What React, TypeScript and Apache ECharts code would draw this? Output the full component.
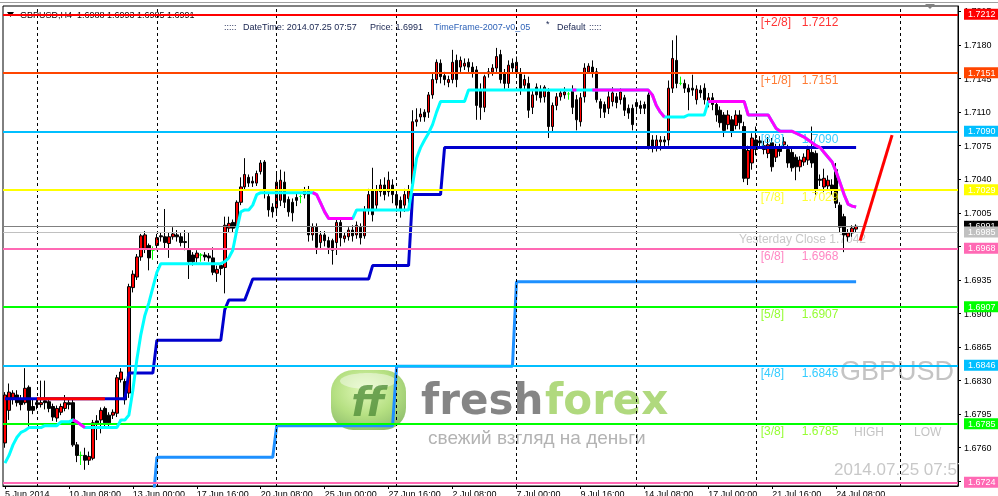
import React, { useEffect, useRef } from "react";
import * as echarts from "echarts";

const FONT = '"Liberation Sans", Arial, sans-serif';
const SLOT_COUNT = 239;
const LABEL_EVERY = 16;
const tickLabels = ["5 Jun 2014", "10 Jun 08:00", "13 Jun 00:00", "17 Jun 16:00", "20 Jun 08:00", "25 Jun 00:00", "27 Jun 16:00", "2 Jul 08:00", "7 Jul 00:00", "9 Jul 16:00", "14 Jul 08:00", "17 Jul 00:00", "21 Jul 16:00", "24 Jul 08:00"];
const yTicks = [1.7215, 1.718, 1.7145, 1.711, 1.7075, 1.704, 1.7005, 1.697, 1.6935, 1.69, 1.6865, 1.683, 1.6795, 1.676, 1.6725];

const opens = [
  1.6765, 1.6799, 1.6812, 1.6815, 1.681, 1.6807, 1.6823, 1.6803, 1.6807, 1.6805,
  1.6809, 1.6808, 1.6803, 1.6791, 1.6797, 1.6801, 1.6807, 1.6807, 1.6763, 1.6752,
  1.6752, 1.6747, 1.6749, 1.6788, 1.6789, 1.6801, 1.6794, 1.6794, 1.6796, 1.6831,
  1.6829, 1.6817, 1.6927, 1.6938, 1.6959, 1.6968, 1.6971, 1.6966, 1.6971, 1.6981,
  1.698, 1.6973, 1.698, 1.6982, 1.698, 1.6975, 1.6966, 1.6961, 1.6958, 1.6961,
  1.6961, 1.696, 1.6958, 1.6942, 1.695, 1.6948, 1.6989, 1.6995, 1.699, 1.7016,
  1.7032, 1.7042, 1.7038, 1.7036, 1.7048, 1.7058, 1.7022, 1.7011, 1.701, 1.7018,
  1.7037, 1.7019, 1.7016, 1.7021, 1.7022, 1.7024, 1.7029, 1.6982, 1.699, 1.6974,
  1.6982, 1.6976, 1.6976, 1.6974, 1.6995, 1.6978, 1.698, 1.6987, 1.6982, 1.699,
  1.6981, 1.7008, 1.7029, 1.7013, 1.7027, 1.7034, 1.7027, 1.7034, 1.7024, 1.7018,
  1.7013, 1.702, 1.7035, 1.71, 1.7105, 1.711, 1.711, 1.7128, 1.7144, 1.7161,
  1.7148, 1.7141, 1.7144, 1.7164, 1.7157, 1.7158, 1.7162, 1.7157, 1.7154, 1.7133,
  1.7115, 1.715, 1.7152, 1.7156, 1.717, 1.7151, 1.714, 1.7161, 1.7151, 1.7151,
  1.7138, 1.714, 1.7115, 1.7136, 1.7133, 1.7126, 1.7131, 1.7095, 1.7117, 1.7126,
  1.7128, 1.7129, 1.7133, 1.7123, 1.71, 1.7126, 1.7152, 1.7157, 1.7152, 1.7121,
  1.7118, 1.7114, 1.7121, 1.7126, 1.7123, 1.7125, 1.7114, 1.7114, 1.712, 1.7117,
  1.7118, 1.7128, 1.7081, 1.7074, 1.7079, 1.7081, 1.7081, 1.7135, 1.7164, 1.714,
  1.714, 1.7135, 1.7135, 1.7123, 1.7133, 1.7135, 1.712, 1.7125, 1.7118, 1.7112,
  1.7107, 1.7097, 1.7102, 1.7096, 1.7107, 1.7095, 1.7041, 1.7057, 1.7081, 1.708,
  1.7071, 1.7067, 1.7078, 1.7063, 1.7073, 1.7076, 1.7071, 1.7068, 1.7063, 1.7053,
  1.7058, 1.706, 1.7068, 1.7067, 1.704, 1.7032, 1.7033, 1.7034, 1.705, 1.7013,
  1.7001, 1.698, 1.6984, 1.6988
];
const closes = [
  1.6815, 1.6818, 1.6817, 1.6807, 1.6805, 1.6822, 1.6799, 1.6799, 1.6805, 1.6807,
  1.6807, 1.6801, 1.6792, 1.6801, 1.6803, 1.6807, 1.6805, 1.6763, 1.6752, 1.6752,
  1.6747, 1.6751, 1.6786, 1.6786, 1.6799, 1.6786, 1.6786, 1.6797, 1.6833, 1.6839,
  1.681, 1.6928, 1.6941, 1.6959, 1.6981, 1.6982, 1.6958, 1.6966, 1.6979, 1.698,
  1.6974, 1.698, 1.6983, 1.698, 1.6974, 1.6974, 1.6954, 1.6954, 1.6963, 1.6961,
  1.6959, 1.6958, 1.6943, 1.6946, 1.6947, 1.6992, 1.6994, 1.6989, 1.7016, 1.7032,
  1.7045, 1.7036, 1.7036, 1.7046, 1.7057, 1.7029, 1.7008, 1.7006, 1.7037, 1.7039,
  1.7016, 1.7006, 1.7005, 1.7018, 1.7022, 1.7028, 1.6982, 1.699, 1.6969, 1.6982,
  1.6976, 1.6969, 1.6966, 1.6995, 1.6979, 1.6981, 1.6987, 1.6981, 1.6992, 1.6979,
  1.7008, 1.7024, 1.7003, 1.7029, 1.7034, 1.7024, 1.7039, 1.7024, 1.7013, 1.7008,
  1.7024, 1.7029, 1.71, 1.7102, 1.7108, 1.7105, 1.7128, 1.7144, 1.7162, 1.7147,
  1.7144, 1.7144, 1.7162, 1.7144, 1.7164, 1.7161, 1.7157, 1.7151, 1.7117, 1.7115,
  1.7147, 1.7152, 1.7156, 1.7168, 1.7144, 1.714, 1.7159, 1.7156, 1.7162, 1.7135,
  1.7144, 1.7112, 1.7128, 1.7128, 1.7125, 1.7136, 1.7095, 1.7117, 1.7126, 1.713,
  1.7131, 1.7129, 1.7115, 1.7102, 1.7125, 1.7156, 1.7158, 1.7151, 1.7123, 1.7114,
  1.711, 1.7126, 1.713, 1.712, 1.7131, 1.7112, 1.7109, 1.7097, 1.7116, 1.7114,
  1.7114, 1.7074, 1.7073, 1.7081, 1.7081, 1.7079, 1.7135, 1.7166, 1.714, 1.714,
  1.7135, 1.7131, 1.7133, 1.7134, 1.713, 1.7123, 1.7125, 1.7118, 1.7107, 1.7099,
  1.7091, 1.7107, 1.7089, 1.7107, 1.7099, 1.7041, 1.707, 1.7083, 1.7071, 1.7078,
  1.7075, 1.7076, 1.7053, 1.7073, 1.7069, 1.7079, 1.7057, 1.7052, 1.7053, 1.706,
  1.7063, 1.7071, 1.7057, 1.7029, 1.7039, 1.7041, 1.7039, 1.7029, 1.7015, 1.699,
  1.6982, 1.6984, 1.6989, 1.6991
];
const lows = [
  1.676, 1.6789, 1.6805, 1.6803, 1.6799, 1.6805, 1.6782, 1.6795, 1.68, 1.6802,
  1.68, 1.6797, 1.6788, 1.6787, 1.6794, 1.6798, 1.68, 1.6761, 1.6745, 1.6742,
  1.6737, 1.6742, 1.6747, 1.6768, 1.6775, 1.678, 1.678, 1.679, 1.6792, 1.6828,
  1.6805, 1.6812, 1.6922, 1.6935, 1.6955, 1.6963, 1.6945, 1.6956, 1.6966, 1.6975,
  1.6968, 1.6958, 1.6977, 1.6975, 1.697, 1.6966, 1.6936, 1.695, 1.6953, 1.6954,
  1.6955, 1.6954, 1.694, 1.6933, 1.694, 1.6921, 1.6985, 1.6985, 1.6987, 1.7013,
  1.7028, 1.7032, 1.7032, 1.7033, 1.7045, 1.702, 1.7001, 1.7, 1.7003, 1.7012,
  1.701, 1.7001, 1.6996, 1.7012, 1.7015, 1.702, 1.6975, 1.6976, 1.6962, 1.6968,
  1.697, 1.6962, 1.6951, 1.6961, 1.697, 1.6974, 1.6976, 1.6975, 1.6978, 1.6972,
  1.6978, 1.7003, 1.6996, 1.7008, 1.7022, 1.7018, 1.7022, 1.7015, 1.7006, 1.7,
  1.7006, 1.7015, 1.703, 1.7095, 1.71, 1.71, 1.7104, 1.7124, 1.714, 1.714,
  1.7138, 1.7136, 1.714, 1.7136, 1.7152, 1.7154, 1.7152, 1.7146, 1.7102, 1.7102,
  1.711, 1.7146, 1.7148, 1.7152, 1.714, 1.7133, 1.7135, 1.715, 1.7146, 1.7128,
  1.7133, 1.7104, 1.7108, 1.7122, 1.712, 1.712, 1.7083, 1.709, 1.7112, 1.7122,
  1.7124, 1.7123, 1.7108, 1.7091, 1.7095, 1.712, 1.715, 1.7146, 1.712, 1.7104,
  1.7104, 1.7108, 1.7116, 1.7114, 1.7118, 1.7106, 1.7103, 1.7091, 1.711, 1.7108,
  1.7108, 1.7071, 1.7068, 1.7069, 1.707, 1.7074, 1.7075, 1.713, 1.7135, 1.7138,
  1.713, 1.7112, 1.7127, 1.7118, 1.7125, 1.7118, 1.7115, 1.7112, 1.71, 1.7094,
  1.7084, 1.7092, 1.7084, 1.7092, 1.7092, 1.7037, 1.7034, 1.705, 1.7065, 1.7072,
  1.7066, 1.7062, 1.7048, 1.7058, 1.7064, 1.7072, 1.7052, 1.7048, 1.7039, 1.7048,
  1.7054, 1.7055, 1.7052, 1.7024, 1.7033, 1.7027, 1.7028, 1.7024, 1.701, 1.6985,
  1.6964, 1.6975, 1.698, 1.6985
];
const highs = [
  1.6818, 1.6827, 1.682, 1.682, 1.6815, 1.6843, 1.6825, 1.681, 1.6812, 1.683,
  1.683, 1.6812, 1.6806, 1.6804, 1.6806, 1.6815, 1.6812, 1.681, 1.6766, 1.6756,
  1.676, 1.6756, 1.6789, 1.6794, 1.6802, 1.6803, 1.6797, 1.68, 1.6836, 1.6843,
  1.6832, 1.6931, 1.6945, 1.6962, 1.6983, 1.6986, 1.6973, 1.697, 1.6983, 1.6985,
  1.7009, 1.6984, 1.699, 1.6987, 1.6984, 1.6987, 1.6984, 1.6964, 1.6966, 1.6963,
  1.6964, 1.6963, 1.6969, 1.695, 1.6953, 1.7001, 1.7001, 1.6998, 1.7018, 1.7042,
  1.7062, 1.7045, 1.7043, 1.7049, 1.706, 1.706, 1.7026, 1.7015, 1.7047, 1.705,
  1.7048, 1.7022, 1.702, 1.7025, 1.7024, 1.7032, 1.7033, 1.6994, 1.6994, 1.6986,
  1.6986, 1.698, 1.6978, 1.6998, 1.6998, 1.6984, 1.699, 1.6992, 1.6996, 1.6994,
  1.7012, 1.703, 1.7052, 1.7034, 1.704, 1.7042, 1.7048, 1.704, 1.7028, 1.7022,
  1.703, 1.7034, 1.7112, 1.7114, 1.7114, 1.7113, 1.7131, 1.7151, 1.7165, 1.7165,
  1.7152, 1.7148, 1.7175, 1.717, 1.7168, 1.7166, 1.7166, 1.7162, 1.7158, 1.714,
  1.7149, 1.7156, 1.716, 1.7177, 1.7175, 1.7155, 1.7164, 1.7166, 1.7168, 1.7156,
  1.7149, 1.7147, 1.7133, 1.714, 1.7138, 1.7138, 1.7135, 1.712, 1.713, 1.7134,
  1.7136, 1.7131, 1.7138, 1.7128, 1.713, 1.7161, 1.7161, 1.7164, 1.7156, 1.7124,
  1.7121, 1.7133, 1.7136, 1.713, 1.7135, 1.7128, 1.7118, 1.7118, 1.7124, 1.7122,
  1.7121, 1.7131, 1.7086, 1.7086, 1.7085, 1.7085, 1.7143, 1.7185, 1.719, 1.7147,
  1.7144, 1.7139, 1.7149, 1.7138, 1.7138, 1.714, 1.713, 1.713, 1.7122, 1.7116,
  1.711, 1.7112, 1.7106, 1.7112, 1.7112, 1.71, 1.7075, 1.7088, 1.7095, 1.7085,
  1.708, 1.7084, 1.7083, 1.7077, 1.7077, 1.7084, 1.7076, 1.7072, 1.7066, 1.7064,
  1.7067, 1.7075, 1.7095, 1.707, 1.7045, 1.7051, 1.7044, 1.704, 1.7057, 1.7016,
  1.7004, 1.6988, 1.6992, 1.6993
];
const dojiBars = [19, 37, 49, 74, 141, 169];

const trendValues = [
  1.6744, 1.6752, 1.6763, 1.6771, 1.6776, 1.6778, 1.6781, 1.6781, 1.6781, 1.6781,
  1.6783, 1.6783, 1.6783, 1.6783, 1.6787, 1.6787, 1.6787, 1.6789, 1.6787, 1.6784,
  1.6781, 1.6781, 1.6781, 1.6781, 1.6781, 1.6781, 1.6781, 1.6781, 1.6781, 1.6789,
  1.6789, 1.6794, 1.682, 1.6852, 1.6878, 1.6898, 1.6911, 1.6927, 1.6943, 1.6952,
  1.6952, 1.6952, 1.6952, 1.6952, 1.6952, 1.6952, 1.6952, 1.6952, 1.6952, 1.6952,
  1.6952, 1.6952, 1.6952, 1.6952, 1.6952, 1.6954, 1.6958, 1.6966, 1.6987, 1.7006,
  1.7008, 1.7008, 1.7013, 1.7024, 1.7026, 1.7026, 1.7026, 1.7026, 1.7026, 1.7026,
  1.7026, 1.7026, 1.7026, 1.7026, 1.7026, 1.7026, 1.7026, 1.7026, 1.7024, 1.7015,
  1.7006, 1.6999, 1.6999, 1.6999, 1.6999, 1.6999, 1.6999, 1.6999, 1.7008, 1.7008,
  1.7008, 1.7008, 1.7008, 1.7008, 1.7008, 1.7008, 1.7008, 1.7008, 1.7008, 1.7008,
  1.7008, 1.7008, 1.7034, 1.7062, 1.7073, 1.7081, 1.7088, 1.7097, 1.711, 1.7121,
  1.7121, 1.7121, 1.7121, 1.7121, 1.7121, 1.7121, 1.7133, 1.7133, 1.7133, 1.7133,
  1.7133, 1.7133, 1.7133, 1.7133, 1.7133, 1.7133, 1.7133, 1.7133, 1.7133, 1.7133,
  1.7133, 1.7133, 1.7133, 1.7133, 1.7133, 1.7133, 1.7133, 1.7133, 1.7133, 1.7133,
  1.7133, 1.7133, 1.7133, 1.7133, 1.7133, 1.7133, 1.7133, 1.7133, 1.7133, 1.7133,
  1.7133, 1.7133, 1.7133, 1.7133, 1.7133, 1.7133, 1.7133, 1.7133, 1.7133, 1.7133,
  1.7133, 1.7133, 1.7128, 1.7117, 1.711, 1.7105, 1.7105, 1.7105, 1.7105, 1.7105,
  1.7105, 1.7107, 1.7107, 1.7107, 1.7107, 1.7107, 1.7121, 1.7121, 1.7121, 1.7121,
  1.7121, 1.7121, 1.7121, 1.7121, 1.7121, 1.7121, 1.7107, 1.7107, 1.7107, 1.7107,
  1.7107, 1.7107, 1.71, 1.7093, 1.709, 1.709, 1.709, 1.709, 1.7088, 1.7086,
  1.7084, 1.7081, 1.7078, 1.7075, 1.7073, 1.7068, 1.7063, 1.7058, 1.7048, 1.7036,
  1.7024, 1.7014, 1.7012, 1.7011
];
const trendDownRanges = [[17, 20], [77, 87], [142, 143], [147, 165], [176, 213]];

// stepped support lines: [fromBar, toBar, price]
const blueSteps = [[0, 30, 1.6811], [31, 37, 1.6838], [38, 54, 1.6872], [55, 55, 1.6904], [56, 60, 1.6914], [61, 61, 1.6925], [62, 91, 1.6936], [92, 101, 1.695], [102, 109, 1.7024], [110, 213, 1.7073]];
const redSteps = [[8, 25, 1.6811]];
const dodgerSteps = [[37, 37, 1.67], [38, 67, 1.675], [68, 97, 1.6783], [98, 127, 1.6845], [128, 213, 1.6933]];
const projection = [[214, 1.6976], [222, 1.7086]];
const weekLines = [8, 38, 68, 98, 128, 158, 188, 224];

const levels = [
  { name: "[+2/8]", value: 1.7212, color: "#FF0000", text: "#FF0000" },
  { name: "[+1/8]", value: 1.7151, color: "#FF4500", text: "#FF5A00" },
  { name: "[8/8]", value: 1.709, color: "#00BFFF", text: "#00BFFF" },
  { name: "[7/8]", value: 1.7029, color: "#FFFF00", text: "#FFFF00" },
  { name: "[6/8]", value: 1.6968, color: "#FF69B4", text: "#FF69B4" },
  { name: "[5/8]", value: 1.6907, color: "#00FF00", text: "#7CFC00" },
  { name: "[4/8]", value: 1.6846, color: "#00BFFF", text: "#00BFFF" },
  { name: "[3/8]", value: 1.6785, color: "#00FF00", text: "#7CFC00" },
  { name: "", value: 1.6724, color: "#FF69B4", text: "#FF69B4" },
];
const priceLines = [
  { value: 1.6991, color: "#808080", tag: "#000000" },
  { value: 1.6985, color: "#C0C0C0", tag: "#C0C0C0" },
];
const LEVEL_TEXT_BAR = 189;

const BAR_COUNT = opens.length;

function fromSteps(steps: number[][]) {
  const arr: (number | null)[] = new Array(BAR_COUNT).fill(null);
  steps.forEach(([a, b, v]) => {
    for (let i = a; i <= b; i++) arr[i] = v;
  });
  return arr;
}

function tag(color: string, value: number) {
  return {
    show: true,
    position: "end",
    distance: 6,
    formatter: () => value.toFixed(4),
    color: "#ffffff",
    backgroundColor: color,
    padding: [1, 4, 0, 4],
    fontSize: 9,
    lineHeight: 10,
    fontFamily: FONT,
  };
}

export default function App() {
  const ref = useRef<HTMLDivElement>(null);
  useEffect(() => {
    if (!ref.current) return;
    const chart = echarts.init(ref.current, undefined, { renderer: "svg" });

    const categories = Array.from({ length: SLOT_COUNT }, (_, i) =>
      i % LABEL_EVERY === 0 && tickLabels[i / LABEL_EVERY] ? tickLabels[i / LABEL_EVERY] : ""
    );

    const candleData = opens.map((o, i) => {
      const v = [o, closes[i], lows[i], highs[i]];
      if (dojiBars.includes(i)) {
        return {
          value: v,
          itemStyle: { color: "#00FF00", color0: "#00FF00", borderColor: "#00FF00", borderColor0: "#00FF00" },
        };
      }
      return v;
    });

    const magenta: (number | null)[] = new Array(BAR_COUNT).fill(null);
    trendDownRanges.forEach(([a, b]) => {
      for (let i = a; i <= b; i++) magenta[i] = trendValues[i];
    });

    const levelTexts: any[] = [];
    levels.forEach((l) => {
      if (!l.name) return;
      levelTexts.push({ value: [LEVEL_TEXT_BAR, l.value], label: { formatter: l.name, color: l.text, position: [1, 2] } });
      levelTexts.push({ value: [LEVEL_TEXT_BAR, l.value], label: { formatter: l.value.toFixed(4), color: l.text, position: [42, 2] } });
    });

    const stepLine = (data: any, color: string, z: number) => ({
      type: "line",
      data,
      z,
      symbol: "none",
      silent: true,
      connectNulls: false,
      lineStyle: { color, width: 3 },
      emphasis: { disabled: true },
    });

    const txt = (x: number, y: number, text: string, fill: string, font: string, extra: any = {}) => ({
      type: "text",
      x,
      y,
      z: 1,
      silent: true,
      style: { text, fill, font, textVerticalAlign: "middle", verticalAlign: "middle", ...extra },
    });

    const smallFont = `9px ${FONT}`;

    chart.setOption({
      animation: false,
      grid: {
        left: 3,
        right: 40,
        top: 6,
        bottom: 10,
        show: true,
        borderColor: "#000",
        borderWidth: 1,
        backgroundColor: "transparent",
        containLabel: false,
        outerBoundsMode: "none",
      },
      xAxis: {
        type: "category",
        data: categories,
        boundaryGap: true,
        axisLine: { show: true, lineStyle: { color: "#000", width: 1 } },
        axisTick: {
          show: true,
          alignWithLabel: true,
          length: 3,
          interval: (_i: number, v: string) => v !== "",
          lineStyle: { color: "#000" },
        },
        axisLabel: {
          interval: 0,
          align: "left",
          color: "#000",
          fontSize: 9,
          fontFamily: FONT,
          margin: 3,
        },
        splitLine: { show: false },
      },
      yAxis: {
        type: "value",
        position: "right",
        min: 1.67201,
        max: 1.72207,
        scale: true,
        splitLine: { show: false },
        axisLine: { show: true, lineStyle: { color: "#000", width: 1 } },
        axisTick: { show: true, length: 3, lineStyle: { color: "#000" }, customValues: yTicks },
        axisLabel: {
          customValues: yTicks,
          formatter: (v: number) => v.toFixed(4),
          color: "#000",
          fontSize: 9,
          fontFamily: FONT,
          margin: 6,
        },
      },
      graphic: [
        { type: "line", z: 1, silent: true, shape: { x1: 0, y1: 2.5, x2: 998, y2: 2.5 }, style: { stroke: "#a0a0a0", lineWidth: 1 } },
        { type: "polygon", z: 1, silent: true, shape: { points: [[925, 4], [935, 4], [930, 9]] }, style: { fill: "#808080" } },
        { type: "polygon", z: 1, silent: true, shape: { points: [[7, 12], [14, 12], [10.5, 17]] }, style: { fill: "#000" } },
        txt(20, 14.5, "GBPUSD,H4  1.6988 1.6993 1.6985 1.6991", "#000", smallFont),
        txt(224, 27, ":::::", "#17234f", smallFont),
        txt(243, 27, "DateTime: 2014.07.25 07:57", "#17234f", smallFont),
        txt(370, 27, "Price: 1.6991", "#17234f", smallFont),
        txt(434, 27, "TimeFrame-2007-v0_05", "#2f63b8", smallFont),
        txt(546, 24, "*", "#17234f", smallFont),
        txt(557, 27, "Default", "#17234f", smallFont),
        txt(589, 27, ":::::", "#17234f", smallFont),
        // watermark logo
        {
          type: "rect",
          z: 0,
          silent: true,
          shape: { x: 331, y: 370, width: 75, height: 60, r: 22 },
          style: {
            fill: new echarts.graphic.RadialGradient(0.45, 0.35, 0.75, [
              { offset: 0, color: "#d4f59a" },
              { offset: 0.55, color: "#95d24c" },
              { offset: 1, color: "#5b9e2c" },
            ]),
            opacity: 0.7,
          },
        },
        { type: "ellipse", z: 0, silent: true, shape: { cx: 368, cy: 381, rx: 28, ry: 8 }, style: { fill: "rgba(255,255,255,0.45)" } },
        txt(368, 402, "ff", "#4b8a36", `italic bold 40px "DejaVu Sans", sans-serif`, { align: "center", textAlign: "center", opacity: 0.75 }),
        txt(421, 399, "fresh", "#707070", `bold 42px "DejaVu Sans", sans-serif`, { opacity: 0.85 }),
        txt(545, 399, "forex", "#a2d267", `bold 42px "DejaVu Sans", sans-serif`, { opacity: 0.85 }),
        txt(428, 437, "свежий взгляд на деньги", "#b3b3b3", `19px ${FONT}`),
        // annotations
        txt(739, 239, "Yesterday Close 1.7042", "#c8c8c8", `12px ${FONT}`),
        txt(840, 371, "GBPUSD", "#c4c4c4", `27px ${FONT}`),
        txt(854, 432, "HIGH", "#c4c4c4", `12px ${FONT}`),
        txt(914, 432, "LOW", "#c4c4c4", `12px ${FONT}`),
        txt(834, 469, "2014.07.25 07:57", "#c8c8c8", `17px ${FONT}`),
        { type: "rect", z: 1, silent: true, shape: { x: 959, y: 458, width: 39, height: 20 }, style: { fill: "#ffffff" } },
      ],
      series: [
        {
          type: "line",
          data: [],
          z: 1,
          silent: true,
          markLine: {
            silent: true,
            symbol: ["none", "none"],
            label: { show: false },
            emphasis: { disabled: true },
            lineStyle: { color: "#000", type: [3, 3], width: 1 },
            data: weekLines.map((i) => ({ xAxis: i })),
          },
        },
        {
          type: "candlestick",
          data: candleData,
          z: 2,
          barWidth: 3,
          silent: true,
          itemStyle: { color: "#FF0000", color0: "#000000", borderColor: "#000000", borderColor0: "#000000", borderWidth: 1 },
          markLine: {
            silent: true,
            symbol: ["none", "none"],
            emphasis: { disabled: true },
            precision: 4,
            data: [
              ...levels.map((l) => ({ yAxis: l.value, lineStyle: { color: l.color, width: 2, type: "solid" }, label: tag(l.color, l.value) })),
              ...priceLines.map((p) => ({ yAxis: p.value, lineStyle: { color: p.color, width: 1, type: "solid" }, label: tag(p.tag, p.value) })),
            ],
          },
        },
        {
          type: "scatter",
          data: levelTexts,
          z: 2,
          symbolSize: 1,
          silent: true,
          itemStyle: { color: "transparent" },
          label: { show: true, fontSize: 12, fontFamily: FONT, align: "left", verticalAlign: "top" },
        },
        stepLine(fromSteps(dodgerSteps), "#1E90FF", 4),
        stepLine(fromSteps(blueSteps), "#0000CD", 4),
        stepLine(fromSteps(redSteps), "#FF0000", 5),
        stepLine(trendValues, "#00FFFF", 5),
        stepLine(magenta, "#FF00FF", 6),
        { ...stepLine(projection, "#FF0000", 6), connectNulls: true },
      ],
    });
    return () => chart.dispose();
  }, []);
  return <div ref={ref} style={{ position: "fixed", left: 0, top: 0, width: 998, height: 496 }} />;
}
